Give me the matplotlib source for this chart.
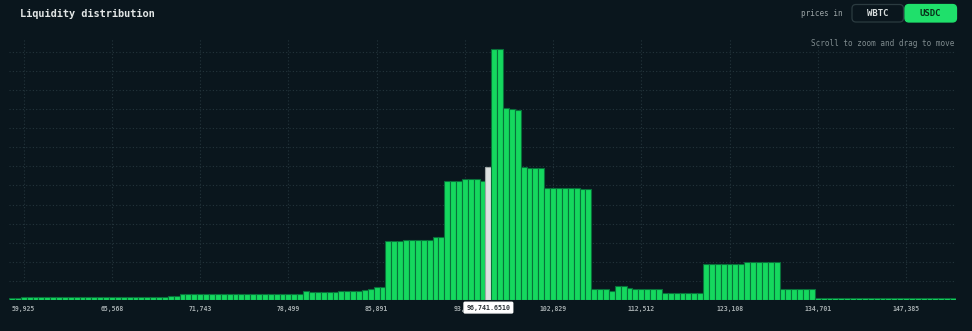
import numpy as np
import matplotlib
matplotlib.use("Agg")
import matplotlib.pyplot as plt
from matplotlib.patches import FancyBboxPatch

# liquidity per bucket (arbitrary units), buckets are equally spaced in log price
liquidity = (
    [0.13] * 2 + [0.17] * 25 + [0.21] * 2 + [0.30] * 21
    + [0.47, 0.40, 0.40, 0.40, 0.40, 0.43, 0.46, 0.46, 0.46, 0.48, 0.50, 0.55, 0.69, 0.69]
    + [3.11, 3.11, 3.11, 3.13, 3.13, 3.14, 3.14, 3.16, 3.28, 3.28]
    + [6.23, 6.23, 6.25, 6.34, 6.34, 6.34, 6.25]
    + [6.98]
    + [13.15, 13.15, 10.06, 10.02, 9.95, 6.95, 6.90, 6.90, 6.90]
    + [5.87] * 6 + [5.83] * 2
    + [0.58, 0.58, 0.58, 0.47, 0.71, 0.71, 0.65, 0.59, 0.58, 0.58, 0.58, 0.58]
    + [0.38] * 7 + [1.90] * 7 + [1.98] * 6 + [0.60] * 6 + [0.085] * 24
)
current_idx = 81
current_price = "96,741.6510"
tick_idx = [2, 17, 32, 47, 62, 77, 92, 107, 122, 137, 152]
tick_labels = ["59,925", "65,568", "71,743", "78,499", "85,891", "93,979",
               "102,829", "112,512", "123,108", "134,701", "147,385"]

BG = "#0a161d"
GREEN = "#15d85e"
GRID = "#24353c"
MONO = "DejaVu Sans Mono"

W, H = 972, 331
fig = plt.figure(figsize=(W / 100, H / 100), dpi=100, facecolor=BG)

# main chart axes, placed in pixel terms
left, right, top, bottom = 9, 956, 38, 300
ax = fig.add_axes([left / W, (H - bottom) / H, (right - left) / W, (bottom - top) / H])
ax.set_facecolor(BG)

x = np.arange(len(liquidity))
colors = [GREEN] * len(liquidity)
colors[current_idx] = "#dde2e1"
edges = ["#08713a"] * len(liquidity)
edges[current_idx] = "#9ea6a5"
ax.bar(x, liquidity, width=1.0, color=colors, edgecolor=edges, linewidth=0.8, zorder=3)

ax.set_xlim(-0.5, len(liquidity) - 0.5)
ax.set_ylim(0, 13.72)

# dotted grid
for gy in range(1, 14):
    ax.axhline(gy, color=GRID, lw=0.8, ls=(0, (1, 2)), zorder=1)
ax.vlines(tick_idx, 1, 13.72, color=GRID, lw=0.8, ls=(0, (1, 2)), zorder=1)

ax.set_xticks(tick_idx)
ax.set_xticklabels(tick_labels, fontfamily=MONO, fontweight="bold", fontsize=4.7, color="#a3abad")
ax.tick_params(axis="x", length=0, pad=4.5)
ax.set_yticks([])
for s in ax.spines.values():
    s.set_visible(False)

# current price marker label (covers the neighbouring tick label, as in the app)
ax.text(current_idx, -0.029, current_price, transform=ax.get_xaxis_transform(),
        ha="center", va="center", fontfamily=MONO, fontweight="bold", fontsize=4.8,
        color="#2a3236", zorder=6, clip_on=False,
        bbox=dict(boxstyle="round,pad=0.35,rounding_size=0.15", fc="white", ec="white"))

# overlay in pixel coordinates for header items
ov = fig.add_axes([0, 0, 1, 1], facecolor="none")
ov.set_xlim(0, W)
ov.set_ylim(H, 0)
ov.axis("off")

ov.text(20, 14, "Liquidity distribution", fontfamily=MONO, fontweight="bold",
        fontsize=7.4, color="#e2e6e6", va="center", ha="left")
ov.text(843, 14, "prices in", fontfamily=MONO, fontsize=5.5, color="#9aa3a5",
        va="center", ha="right")

ov.add_patch(FancyBboxPatch((852, 4.5), 51.5, 17.5, boxstyle="round,pad=0,rounding_size=4",
                            fc=BG, ec="#2b3b40", lw=0.9))
ov.text(877.5, 13.5, "WBTC", fontfamily=MONO, fontweight="bold", fontsize=6.5,
        color="#d8dddd", va="center", ha="center")
ov.add_patch(FancyBboxPatch((905, 4.5), 51.5, 17.5, boxstyle="round,pad=0,rounding_size=4",
                            fc="#1fe06b", ec="#1fe06b", lw=0.9))
ov.text(930.7, 13.5, "USDC", fontfamily=MONO, fontweight="bold", fontsize=6.5,
        color="#08301a", va="center", ha="center")

ov.text(954, 44, "Scroll to zoom and drag to move", fontfamily=MONO, fontsize=5.5,
        color="#7f8b8e", va="center", ha="right")

fig.savefig("out.png", dpi=100, facecolor=BG)
